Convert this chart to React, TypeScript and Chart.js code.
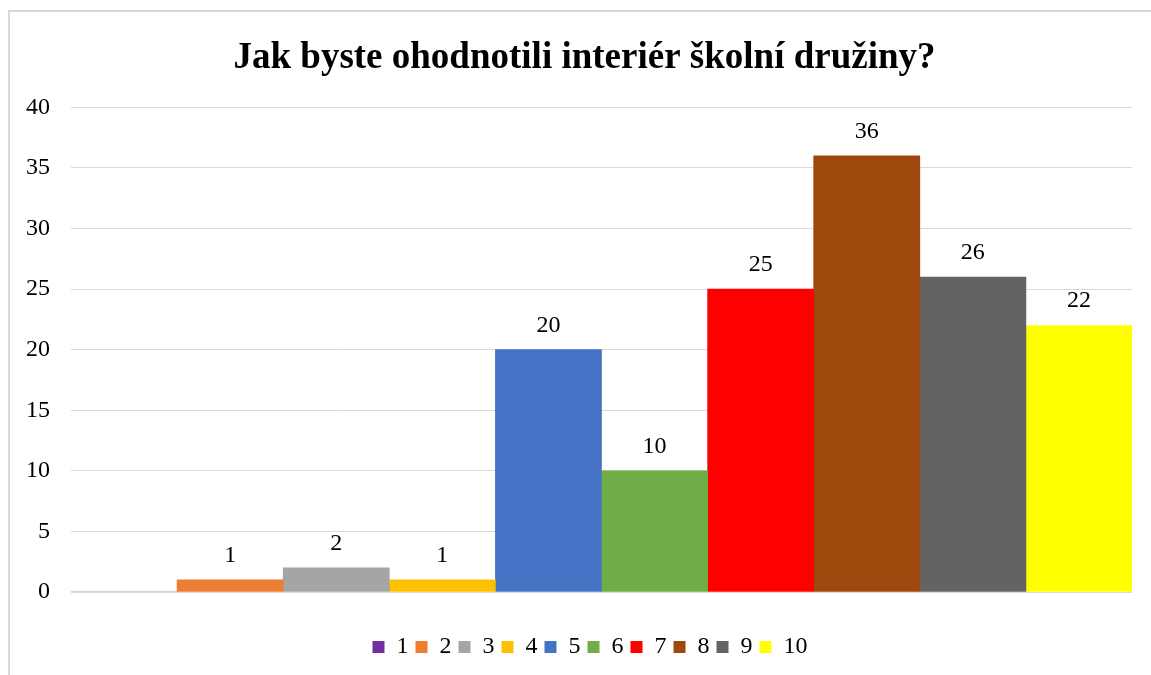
import React, { useEffect, useRef } from "react";
import { Chart, registerables } from "chart.js";

Chart.register(...registerables);

const TITLE = "Jak byste ohodnotili interiér školní družiny?";
const SERIES_NAMES = ["1", "2", "3", "4", "5", "6", "7", "8", "9", "10"];
const SERIES_VALUES = [0, 1, 2, 1, 20, 10, 25, 36, 26, 22];
const SERIES_COLORS = [
  "#7030A0",
  "#ED7D31",
  "#A5A5A5",
  "#FFC000",
  "#4472C4",
  "#70AD47",
  "#FF0000",
  "#9E480E",
  "#636363",
  "#FFFF00",
];
const Y_MIN = 0;
const Y_MAX = 40;
const Y_STEP = 5;

const FONT = "'Liberation Serif', 'Times New Roman', serif";

const dataLabels = {
  id: "dataLabels",
  afterDatasetsDraw(chart: any) {
    const ctx = chart.ctx;
    ctx.save();
    ctx.font = `24px ${FONT}`;
    ctx.fillStyle = "#000";
    ctx.textAlign = "center";
    ctx.textBaseline = "alphabetic";
    chart.data.datasets.forEach((ds: any, i: number) => {
      const meta = chart.getDatasetMeta(i);
      meta.data.forEach((el: any, j: number) => {
        const v = ds.data[j];
        if (v === null || v === 0) return;
        ctx.fillText(String(v), el.x, el.y - 18);
      });
    });
    ctx.restore();
  },
};

// centre title and legend over the plot rather than the whole canvas
const recentre = {
  id: "recentre",
  afterLayout(chart: any) {
    if (chart.titleBlock) chart.titleBlock.left += 37;
    if (chart.legend) chart.legend.left += 48;
  },
};

export default function App() {
  const ref = useRef<HTMLCanvasElement>(null);
  useEffect(() => {
    if (!ref.current) return;
    const chart = new Chart(ref.current, {
      type: "bar",
      data: {
        labels: [""],
        datasets: SERIES_NAMES.map((name, i) => ({
          label: name,
          data: [SERIES_VALUES[i]],
          backgroundColor: SERIES_COLORS[i],
          borderWidth: 0,
          categoryPercentage: 1,
          barPercentage: 1,
        })),
      },
      options: {
        responsive: false,
        animation: false,
        layout: { padding: { left: 0, right: 19, top: 0, bottom: 6 } },
        scales: {
          x: {
            display: true,
            ticks: { display: false },
            grid: { display: false },
            border: { display: false },
            afterFit(scale: any) {
              scale.height = 36;
            },
          },
          y: {
            min: Y_MIN,
            max: Y_MAX,
            ticks: {
              stepSize: Y_STEP,
              font: { family: FONT, size: 24 },
              color: "#000",
              padding: 21,
            },
            grid: { color: "#d9d9d9", drawTicks: false, lineWidth: 1 },
            border: { display: false },
            afterFit(scale: any) {
              scale.width = 71;
            },
          },
        },
        plugins: {
          title: {
            display: true,
            text: TITLE,
            font: { family: FONT, size: 37, weight: "bold" },
            color: "#000",
            padding: { top: 36, bottom: 27 },
          },
          legend: {
            position: "bottom",
            labels: {
              boxWidth: 12,
              boxHeight: 12,
              padding: 7,
              font: { family: FONT, size: 24 },
              color: "#000",
            },
          },
          tooltip: { enabled: false },
        },
      },
      plugins: [dataLabels, recentre],
    });
    return () => chart.destroy();
  }, []);

  return (
    <div
      style={{
        position: "fixed",
        left: 0,
        top: 0,
        width: 1151,
        height: 675,
        overflow: "hidden",
        background: "#fff",
      }}
    >
      <div
        style={{
          position: "absolute",
          left: 8,
          top: 10,
          width: 1200,
          height: 700,
          borderLeft: "2px solid #d9d9d9",
          borderTop: "2px solid #d9d9d9",
        }}
      />
      <canvas
        ref={ref}
        width={1151}
        height={675}
        style={{ position: "absolute", left: 0, top: 0 }}
      />
    </div>
  );
}
